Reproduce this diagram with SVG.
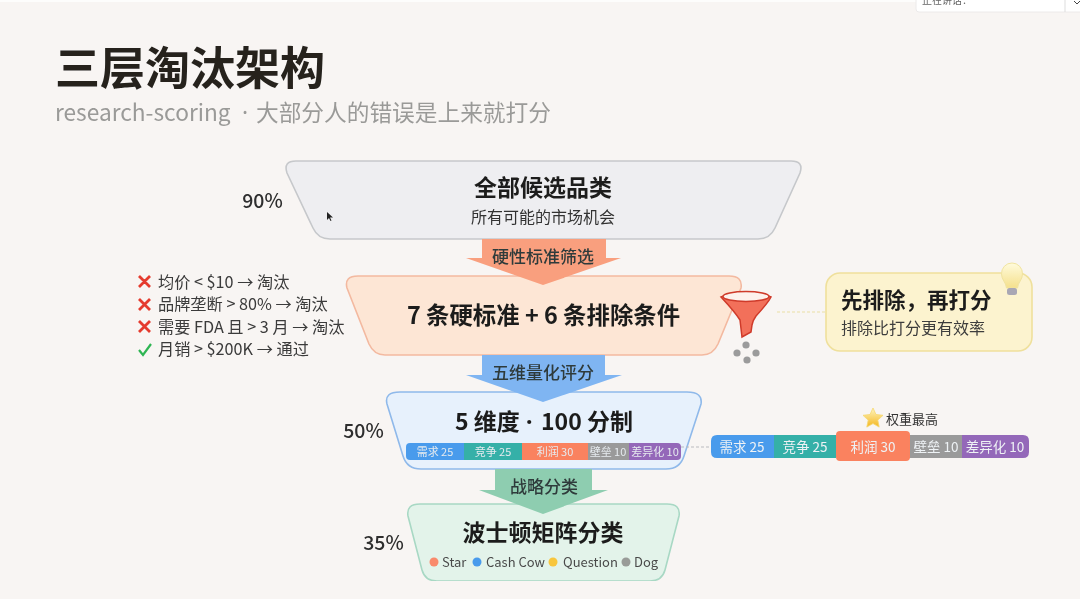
<svg xmlns="http://www.w3.org/2000/svg" width="1080" height="599" viewBox="0 0 1080 599">
<defs>
<style>
text{font-family:"Noto Sans CJK SC","Noto Sans",sans-serif;fill:#1d1d1b}
.m{text-anchor:middle}
.h{font-weight:700;font-size:23px}
.pct{font-size:19.500px;font-weight:500;fill:#2e2e2e;text-anchor:middle}
.li{font-size:16.200px;fill:#3a3a3a}
.ar{font-size:17px;fill:#2f3a3a;text-anchor:middle;font-weight:500}
.seg{font-size:11px;fill:#e6ebef;text-anchor:middle}
.seg2{font-size:13.500px;fill:#eef2f5;text-anchor:middle}
.leg{font-size:13px;fill:#4a4a4a}
.x{fill:none;stroke:#e53a2e;stroke-width:2.8}
</style>
<linearGradient id="bulb" x1="0" y1="0" x2="0" y2="1"><stop offset="0" stop-color="#fffbdc"/><stop offset="1" stop-color="#f5e08c"/></linearGradient>
<linearGradient id="star" x1="0" y1="0" x2="0" y2="1"><stop offset="0" stop-color="#fff6c0"/><stop offset="1" stop-color="#f4b61e"/></linearGradient>
<clipPath id="tc"><rect x="916" y="0" width="164" height="12"/></clipPath>
<filter id="soft" x="0" y="0" width="100%" height="100%"><feGaussianBlur stdDeviation="0.4"/></filter>
</defs>
<rect width="1080" height="599" fill="#f8f5f3"/>
<rect width="1080" height="2" fill="#fdfdfc"/>
<g filter="url(#soft)">
<g id="topbar">
<rect x="916" y="-6" width="170" height="18" rx="3" fill="#fff" stroke="#eceaea"/>
<line x1="1065" y1="0" x2="1065" y2="12" stroke="#ddd"/>
<path d="M1074 1l3 3 3-3" fill="none" stroke="#444"/>
<text x="922" y="4" font-size="10" clip-path="url(#tc)" style="fill:#666">正在讲话：</text>
</g>
<g id="title">
<text x="55" y="85" font-size="45" font-weight="700" style="fill:#26241f">三层淘汰架构</text>
<text y="121" font-size="22.700" style="fill:#9a9a98"><tspan x="55">research-scoring</tspan><tspan x="242" font-family="Noto Sans">·</tspan><tspan x="256">大部分人的错误是上来就打分</tspan></text>
</g>
<g id="tier1">
<path d="M296 161H791Q804 161 800 173L775 228Q770 239 758 239H330Q318 239 313 228L287 173Q283 161 296 161Z" fill="#eeeef1" stroke="#c6c8cb" stroke-width="1.600"/>
<text class="m h" x="543" y="196">全部候选品类</text>
<text class="m" x="543" y="223" font-size="16" style="fill:#333">所有可能的市场机会</text>
<text class="pct" x="262.500" y="208">90%</text>
</g>
<g id="tier2">
<path d="M358 276H729Q743 276 741 288L718 344Q713 355 702 355H385Q374 355 369 344L347 288Q344 276 358 276Z" fill="#fde6d5" stroke="#f3b9a0" stroke-width="1.600"/>
<text class="m" x="543.500" y="324" font-size="23.400" font-weight="700">7 条硬标准 + 6 条排除条件</text>
<g id="rules">
<path class="x" d="M139 276l11 11M150 276l-11 11M139 299l11 11M150 299l-11 11M139 321l11 11M150 321l-11 11"/>
<path d="M139 350l4 5 8-11" fill="none" stroke="#2fb552" stroke-width="2.200"/>
<text class="li" x="158" y="288">均价 &lt; $10 → 淘汰</text>
<text class="li" x="158" y="310">品牌垄断 &gt; 80% → 淘汰</text>
<text class="li" x="158" y="333">需要 FDA 且 &gt; 3 月 → 淘汰</text>
<text class="li" x="158" y="355">月销 &gt; $200K → 通过</text>
</g>
<g id="funnel">
<path d="M721 297Q746 287 771 297Q768 303 756 316Q753 320 752 325L751 332L742 337L740 320Q735 312 721 297Z" fill="#f2705a" stroke="#cf3a2a" stroke-width="1.500"/>
<ellipse cx="746" cy="296.500" rx="23" ry="5" fill="#fdf1ec" stroke="#cf3a2a" stroke-width="1.500"/>
<g fill="#9b9b9b"><circle cx="746" cy="345" r="3.600"/><circle cx="737" cy="353" r="3.600"/><circle cx="756" cy="353" r="3.600"/><circle cx="747" cy="360" r="3.600"/></g>
</g>
</g>
<g id="tip">
<rect x="826" y="273" width="206" height="78" rx="14" fill="#fcf3cf" stroke="#efe09c" stroke-width="1.600"/>
<text x="841" y="308" font-size="21.500" font-weight="700">先排除，再打分</text>
<text x="841" y="334" font-size="16" style="fill:#3c3c3c">排除比打分更有效率</text>
<g id="bulbicon">
<path d="M1012 263a10.500 10.500 0 0 1 10.500 11c0 6-4.500 8-5 14h-11c-.5-6-5-8-5-14a10.500 10.500 0 0 1 10.500-11Z" fill="url(#bulb)" stroke="#f0e3a0"/>
<rect x="1007" y="288" width="10" height="7" rx="2.500" fill="#a9a7b4"/>
</g>
</g>
<g id="tier3">
<path d="M400 392H687Q703 392 701 404L684 456Q680 469 666 469H421Q407 469 403 456L387 404Q384 392 400 392Z" fill="#e7f1fc" stroke="#8fb9ea" stroke-width="1.600"/>
<text y="430" font-size="23" font-weight="700"><tspan x="455">5 维度</tspan><tspan x="526" font-family="Noto Sans">·</tspan><tspan x="541">100 分制</tspan></text>
<g id="bar1">
<path d="M410 443H464V460H410Q406 460 406 456V447Q406 443 410 443Z" fill="#4a9bec"/>
<rect x="464" y="443" width="58" height="17" fill="#36b0a8"/>
<rect x="522" y="443" width="66" height="17" fill="#fa825f"/>
<rect x="588" y="443" width="41" height="17" fill="#9a9a9a"/>
<path d="M629 443H677Q681 443 681 447V456Q681 460 677 460H629Z" fill="#9467b9"/>
<text class="seg" x="435" y="456">需求 25</text>
<text class="seg" x="493" y="456">竞争 25</text>
<text class="seg" x="555" y="456">利润 30</text>
<text class="seg" x="608" y="456">壁垒 10</text>
<text class="seg" x="655" y="456">差异化 10</text>
</g>
<text class="pct" x="363.500" y="438">50%</text>
</g>
<g id="weights">
<path d="M873 408l3 6.500 7 .8-5.200 4.800 1.400 7-6.200-3.500-6.200 3.500 1.400-7-5.200-4.800 7-.8Z" fill="url(#star)" stroke="#f5d76e" stroke-width=".8"/>
<text x="886" y="424" font-size="13" style="fill:#333">权重最高</text>
<path d="M717 435H775V458H717Q711 458 711 452V441Q711 435 717 435Z" fill="#4a9bec"/>
<rect x="774" y="435" width="62" height="23" fill="#36b0a8"/>
<rect x="909" y="435" width="54" height="23" fill="#9a9a9a"/>
<path d="M962 435H1023Q1029 435 1029 441V452Q1029 458 1023 458H962Z" fill="#9467b9"/>
<rect x="836" y="431" width="74" height="30" rx="4" fill="#fa825f"/>
<text class="seg2" x="742" y="452">需求 25</text>
<text class="seg2" x="805" y="452">竞争 25</text>
<text class="seg2" x="873" y="452">利润 30</text>
<text class="seg2" x="936" y="452">壁垒 10</text>
<text class="seg2" x="995" y="452">差异化 10</text>
</g>
<g id="tier4">
<path d="M420 504H667Q681 504 679 516L665 570Q662 581 650 581H437Q425 581 422 570L408 516Q406 504 420 504Z" fill="#e3f3ea" stroke="#a8d8c4" stroke-width="1.600"/>
<text class="m h" x="543" y="541">波士顿矩阵分类</text>
<g id="legend">
<circle cx="434" cy="562" r="4.500" fill="#f98a6c"/><text class="leg" x="442" y="567">Star</text>
<circle cx="477" cy="562" r="4.500" fill="#4a9bec"/><text class="leg" x="486" y="567">Cash Cow</text>
<circle cx="553" cy="562" r="4.500" fill="#f8c63d"/><text class="leg" x="563" y="567">Question</text>
<circle cx="626" cy="562" r="4.500" fill="#999b98"/><text class="leg" x="634" y="567">Dog</text>
</g>
<text class="pct" x="383.500" y="550">35%</text>
</g>
<g id="connectors">
<path d="M482 239H606V258H621L543 285L466 258H482Z" fill="#f99f7e"/>
<path d="M482 355H605V375H622L543 402L466 375H482Z" fill="#7fb5f2"/>
<path d="M495 469H592V490H608L543 514L479 490H495Z" fill="#8ecdb0"/>
<path d="M777 312H826" fill="none" stroke="#e9dfa6" stroke-width="1.200" stroke-dasharray="3 2"/>
<path d="M681 447H711" fill="none" stroke="#b9bcbf" stroke-width="1.200" stroke-dasharray="3 2"/>
</g>
<g id="arrowlabels">
<text class="ar" x="543" y="263">硬性标准筛选</text>
<text class="ar" x="543" y="379">五维量化评分</text>
<text class="ar" x="544" y="493">战略分类</text>
</g>
<path id="cursor" d="M327 212l0 8 2-2 1.500 3 1-.5-1.500-3h3Z" fill="#222"/>
</g>
</svg>
